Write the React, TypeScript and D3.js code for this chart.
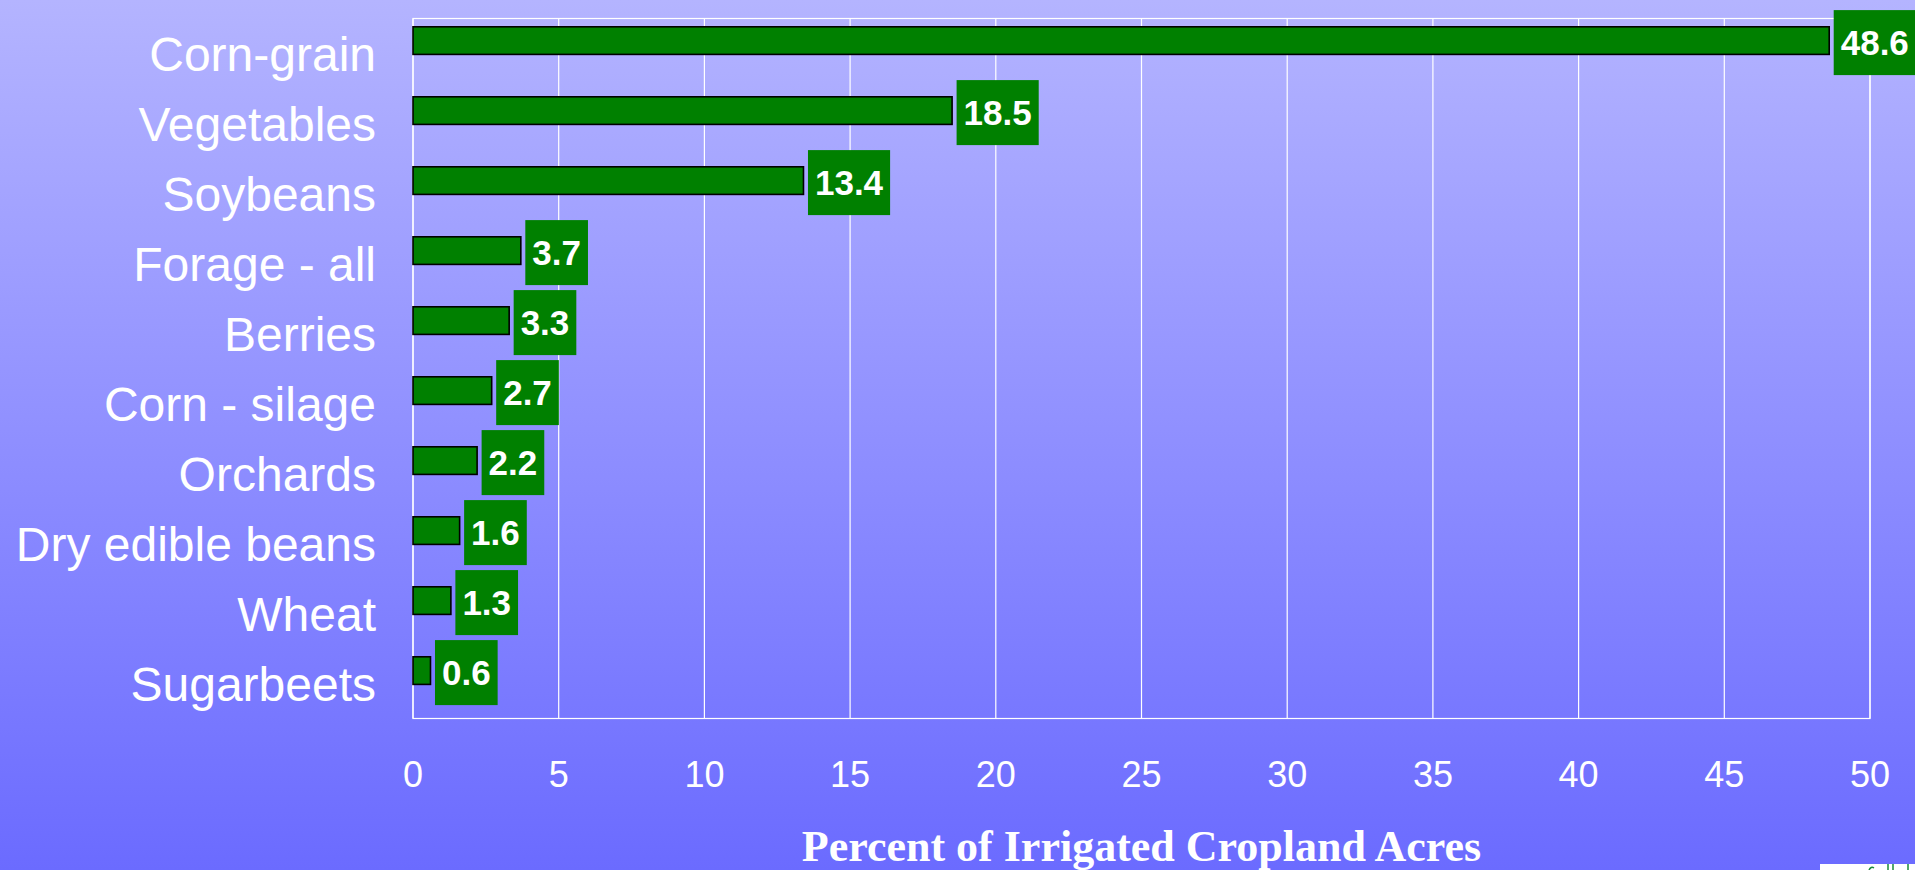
import React, { useEffect, useRef } from 'react'
import * as d3 from 'd3'

// categorieën en waarden (percent of irrigated cropland acres)
const categories = [
	'Corn-grain',
	'Vegetables',
	'Soybeans',
	'Forage - all',
	'Berries',
	'Corn - silage',
	'Orchards',
	'Dry edible beans',
	'Wheat',
	'Sugarbeets',
]
const values = [48.6, 18.5, 13.4, 3.7, 3.3, 2.7, 2.2, 1.6, 1.3, 0.6]
const xTicks = [0, 5, 10, 15, 20, 25, 30, 35, 40, 45, 50]
const axisTitle = 'Percent of Irrigated Cropland Acres'

const W = 1915
const H = 870
const margin = { top: 18.5, left: 413, right: W - 1870, bottom: H - 718.5 }

function App() {
	const ref = useRef<SVGSVGElement | null>(null)

	useEffect(() => {
		const svg = d3.select(ref.current)
		svg.selectAll('*').remove()

		const data = categories.map((c, i) => ({ name: c, value: values[i] }))

		const xscale = d3.scaleLinear().domain([0, 50]).range([margin.left, W - margin.right])
		const yscale = d3
			.scaleBand()
			.domain(categories)
			.range([margin.top, H - margin.bottom])
			.padding(0)

		// achtergrond verloop
		const defs = svg.append('defs')
		const grad = defs
			.append('linearGradient')
			.attr('id', 'bg')
			.attr('x1', 0)
			.attr('y1', 0)
			.attr('x2', 0)
			.attr('y2', 1)
		grad.append('stop').attr('offset', '0%').attr('stop-color', '#b4b4ff')
		grad.append('stop').attr('offset', '100%').attr('stop-color', '#6b6bff')
		svg.append('rect').attr('width', W).attr('height', H).attr('fill', 'url(#bg)')

		// grid lijnen
		svg.append('g')
			.selectAll('line')
			.data(xTicks)
			.join('line')
			.attr('x1', d => xscale(d))
			.attr('x2', d => xscale(d))
			.attr('y1', margin.top)
			.attr('y2', H - margin.bottom)
			.attr('stroke', '#fff')
			.attr('stroke-width', 1.2)

		svg.append('rect')
			.attr('x', xscale(0))
			.attr('y', margin.top)
			.attr('width', xscale(50) - xscale(0))
			.attr('height', H - margin.bottom - margin.top)
			.attr('fill', 'none')
			.attr('stroke', '#fff')
			.attr('stroke-width', 1.2)

		// tick labels
		svg.append('g')
			.selectAll('text')
			.data(xTicks)
			.join('text')
			.attr('x', d => xscale(d))
			.attr('y', 787)
			.attr('text-anchor', 'middle')
			.attr('fill', '#fff')
			.style('font-family', 'Liberation Sans, Arial, sans-serif')
			.style('font-size', '36px')
			.text(d => d)

		// categorie labels
		svg.append('g')
			.selectAll('text')
			.data(categories)
			.join('text')
			.attr('x', 376)
			.attr('y', d => yscale(d)! + yscale.bandwidth() / 2 + 17)
			.attr('text-anchor', 'end')
			.attr('fill', '#fff')
			.style('font-family', 'Liberation Sans, Arial, sans-serif')
			.style('font-size', '48px')
			.text(d => d)

		const barTop = (d: { name: string }) => yscale(d.name)! + 8.3
		const barH = 27.6

		// balken
		svg.append('g')
			.selectAll('rect')
			.data(data)
			.join('rect')
			.attr('x', xscale(0))
			.attr('y', barTop)
			.attr('width', d => xscale(d.value) - xscale(0))
			.attr('height', barH)
			.attr('fill', '#008000')
			.attr('stroke', '#000')
			.attr('stroke-width', 1.6)

		// waarde labels in groene vakjes
		const lab = svg.append('g').selectAll('g').data(data).join('g')
		lab.each(function (d) {
			const g = d3.select(this)
			const t = g
				.append('text')
				.attr('fill', '#fff')
				.style('font-family', 'Liberation Sans, Arial, sans-serif')
				.style('font-size', '35px')
				.style('font-weight', 'bold')
				.text(d.value.toFixed(1))
			const tw = (t.node() as SVGTextElement).getComputedTextLength()
			const bx = xscale(d.value) + 4.5
			const cy = barTop(d) + barH / 2 + 2
			g.insert('rect', 'text')
				.attr('x', bx)
				.attr('y', cy - 32.5)
				.attr('width', tw + 14)
				.attr('height', 65)
				.attr('fill', '#008000')
			t.attr('x', bx + 7).attr('y', cy + 12.5)
		})

		// as titel
		svg.append('text')
			.attr('x', (xscale(0) + xscale(50)) / 2)
			.attr('y', 861)
			.attr('text-anchor', 'middle')
			.attr('fill', '#fff')
			.style('font-family', 'Liberation Serif, Times New Roman, serif')
			.style('font-size', '44px')
			.style('font-weight', 'bold')
			.text(axisTitle)

		// stukje logo rechtsonder (afgesneden plaatje)
		svg.append('rect').attr('x', 1820).attr('y', 864).attr('width', 95).attr('height', 6).attr('fill', '#fff')
		svg.append('g')
			.attr('stroke', '#1a8a3a')
			.attr('stroke-width', 1.5)
			.attr('fill', 'none')
			.call(g => {
				g.append('path').attr('d', 'M1869,870 q2,-4 5,-2')
				g.append('line').attr('x1', 1888).attr('x2', 1888).attr('y1', 864).attr('y2', 870)
				g.append('line').attr('x1', 1893).attr('x2', 1893).attr('y1', 864).attr('y2', 870)
				g.append('line').attr('x1', 1908).attr('x2', 1908).attr('y1', 864).attr('y2', 870)
			})
	}, [])

	return (
		<svg
			ref={ref}
			width={W}
			height={H}
			style={{ position: 'absolute', left: 0, top: 0, display: 'block' }}
		/>
	)
}

export default App
